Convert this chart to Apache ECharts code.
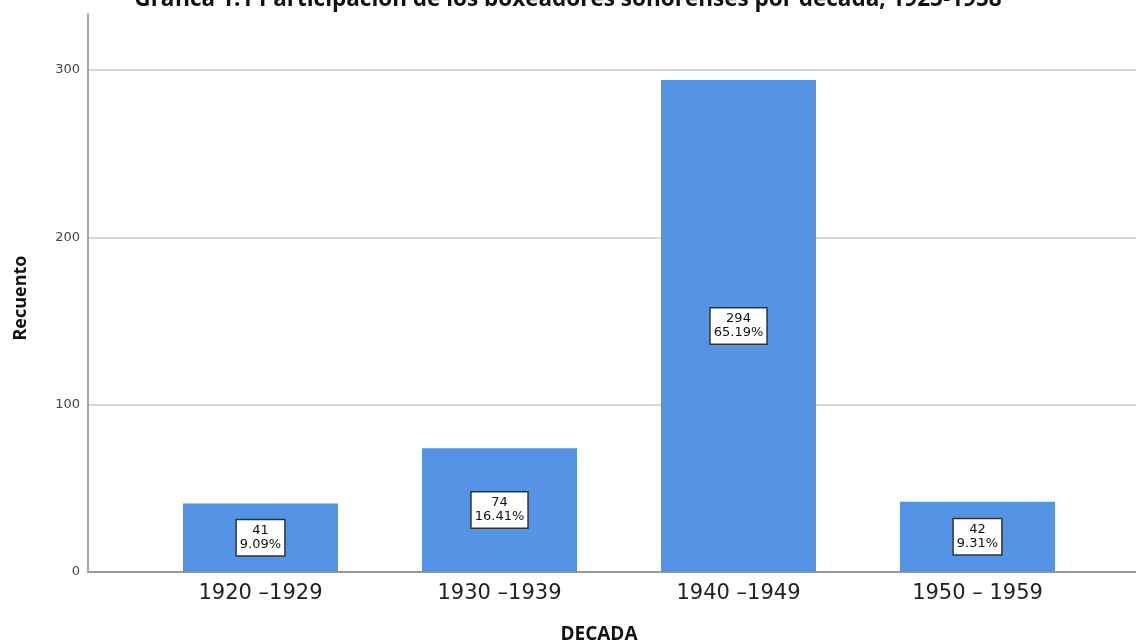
<!DOCTYPE html>
<html><head><meta charset="utf-8">
<script src="https://cdn.jsdelivr.net/npm/echarts@6/dist/echarts.min.js"></script>
<style>html,body{margin:0;padding:0;background:#fff}#c{width:1136px;height:644px}</style>
</head><body><div id="c"></div>
<script>
const titleText = 'Gráfica 1.1 Participación de los boxeadores sonorenses por década, 1925-1958';
const categories = ['1920 \u20131929', '1930 \u20131939', '1940 \u20131949', '1950 \u2013 1959'];
const counts = [41, 74, 294, 42];
const percents = ['9.09%', '16.41%', '65.19%', '9.31%'];
const yTicks = [0, 100, 200, 300];

const chart = echarts.init(document.getElementById('c'), null, {renderer: 'canvas'});
const YMAX = 333.5;
chart.setOption({
  animation: false,
  backgroundColor: '#ffffff',
  title: {
    text: titleText, left: 'center', top: -17,
    textStyle: {fontFamily: 'Open Sans', fontWeight: 'bold', fontSize: 22.5, color: '#111'}
  },
  grid: [
    {left: 88, right: 0, top: 14, bottom: 72, outerBoundsMode: 'none', containLabel: false},
    {left: 141, right: 39, top: 14, bottom: 72, outerBoundsMode: 'none', containLabel: false}
  ],
  xAxis: [
    {gridIndex: 0, type: 'value', min: 0, max: 1,
     axisLine: {show: true, onZero: false, lineStyle: {color: '#9a9a9a', width: 2}},
     axisTick: {show: false}, axisLabel: {show: false}, splitLine: {show: false},
     name: 'DECADA', nameLocation: 'middle', nameGap: 53,
     nameTextStyle: {fontFamily: 'Open Sans', fontWeight: 'bold', fontSize: 19, color: '#111', padding: [0, 26, 0, 0]}},
    {gridIndex: 1, type: 'category', data: categories,
     axisLine: {show: false}, axisTick: {show: false},
     axisLabel: {margin: 11, fontFamily: 'DejaVu Sans', fontSize: 21, color: '#222'}}
  ],
  yAxis: [
    {gridIndex: 0, type: 'value', min: 0, max: YMAX, interval: 100,
     axisLine: {show: true, lineStyle: {color: '#8a8a8a', width: 1.5}},
     axisTick: {show: false},
     axisLabel: {margin: 8, fontFamily: 'DejaVu Sans', fontSize: 13, color: '#444',
       formatter: v => yTicks.includes(v) ? String(v) : ''},
     splitLine: {show: true, showMaxLine: false, lineStyle: {color: '#c8c8c8', width: 1.5}},
     name: 'Recuento', nameLocation: 'middle', nameGap: 58,
     nameTextStyle: {fontFamily: 'Open Sans', fontWeight: 'bold', fontSize: 18, color: '#111', padding: [0, 10, 0, 0]}},
    {gridIndex: 1, type: 'value', min: 0, max: YMAX, show: false}
  ],
  series: [{
    type: 'bar', xAxisIndex: 1, yAxisIndex: 1,
    data: counts, barWidth: 155,
    itemStyle: {color: '#5594e4'},
    label: {
      show: true, position: 'inside',
      formatter: p => counts[p.dataIndex] + '\n' + percents[p.dataIndex],
      fontFamily: 'DejaVu Sans', fontSize: 13, lineHeight: 14, color: '#111',
      backgroundColor: '#ffffff', borderColor: '#333', borderWidth: 1.5,
      padding: [4, 3, 3, 3], align: 'center'
    }
  }]
});
</script></body></html>
